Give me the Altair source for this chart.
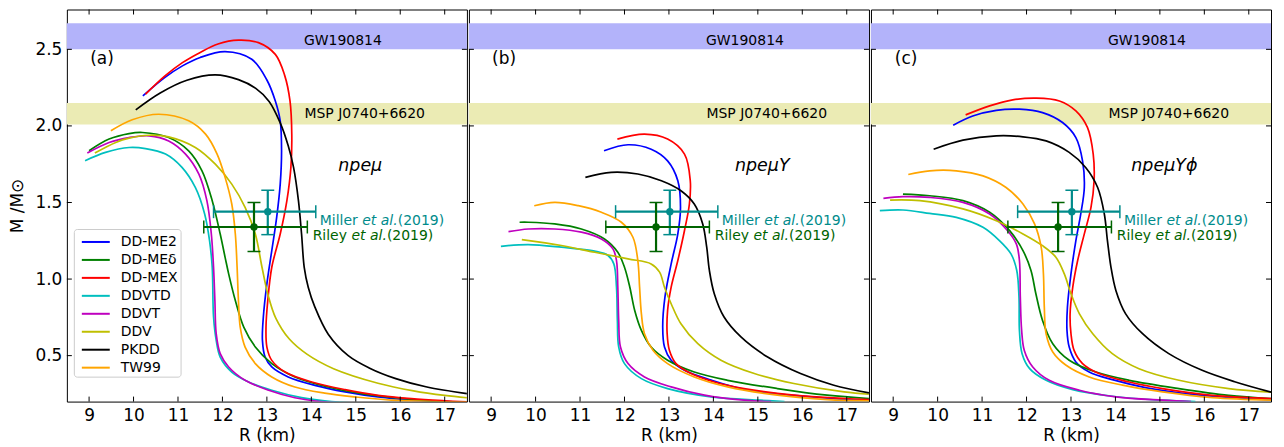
import altair as alt
import pandas as pd

# ---------------- data ----------------
MODELS = ["DD-ME2", "DD-MEδ", "DD-MEX", "DDVTD", "DDVT", "DDV", "PKDD", "TW99"]
COLORS = ["#0000ff", "#008000", "#ff0000", "#00bfbf", "#bf00bf", "#bfbf00", "#000000", "#ffa500"]

X_TICKS = [9, 10, 11, 12, 13, 14, 15, 16, 17]
Y_TICKS = [0.5, 1.0, 1.5, 2.0, 2.5]

GW_BAND = [2.50, 2.67]
MSP_BAND = [2.01, 2.15]

OBS_NAMES = ["Miller", "Riley"]
OBS_R = [13.02, 12.71]
OBS_R_LO = [11.80, 11.58]
OBS_R_HI = [14.10, 13.91]
OBS_M = [1.44, 1.34]
OBS_M_LO = [1.29, 1.18]
OBS_M_HI = [1.58, 1.50]

PANEL_LABELS = ["(a)", "(b)", "(c)"]
COMPOSITIONS = ["npeμ", "npeμY", "npeμYϕ"]

# panel (a): npeμ
CURVES_A = {
    "DD-ME2": [(10.21, 2.196), (10.7, 2.315), (11.1, 2.392), (11.5, 2.447), (12.06, 2.485), (12.66, 2.435),
               (13.0, 2.30), (13.19, 2.163), (13.30, 2.033), (13.33, 1.837), (13.30, 1.62), (13.22, 1.403),
               (13.11, 1.186), (13.0, 0.969), (12.92, 0.752), (12.90, 0.6), (12.96, 0.491), (13.11, 0.426),
               (13.48, 0.361), (14.08, 0.306), (14.76, 0.263), (15.5, 0.23), (16.25, 0.21), (17.0, 0.2),
               (17.5, 0.195)],
    "DD-MEδ": [(9.0, 1.838), (9.45, 1.914), (9.9, 1.95), (10.2, 1.957), (10.79, 1.924), (11.24, 1.837),
               (11.54, 1.707), (11.77, 1.512), (11.95, 1.294), (12.06, 1.142), (12.14, 1.034), (12.29, 0.860),
               (12.48, 0.686), (12.74, 0.556), (13.11, 0.448), (13.63, 0.361), (14.38, 0.295), (15.13, 0.252),
               (15.9, 0.225), (16.6, 0.205), (17.5, 0.197)],
    "DD-MEX": [(10.27, 2.207), (10.7, 2.325), (11.1, 2.413), (11.5, 2.48), (11.9, 2.535), (12.36, 2.56),
               (12.81, 2.544), (13.19, 2.467), (13.40, 2.33), (13.52, 2.163), (13.56, 1.946), (13.54, 1.729),
               (13.45, 1.512), (13.30, 1.294), (13.11, 1.077), (13.02, 0.86), (12.98, 0.686), (13.0, 0.556),
               (13.11, 0.469), (13.41, 0.393), (14.01, 0.328), (14.76, 0.278), (15.5, 0.241), (16.25, 0.219),
               (17.0, 0.205), (17.5, 0.198)],
    "DDVTD": [(8.91, 1.773), (9.37, 1.827), (9.9, 1.859), (10.27, 1.852), (10.72, 1.816), (11.09, 1.729),
              (11.39, 1.598), (11.60, 1.425), (11.71, 1.251), (11.77, 1.077), (11.80, 0.752), (11.86, 0.6),
              (11.95, 0.491), (12.21, 0.393), (12.59, 0.328), (13.11, 0.274), (13.78, 0.226), (14.45, 0.2),
              (15.0, 0.19)],
    "DDVT": [(8.96, 1.823), (9.45, 1.892), (9.9, 1.924), (10.35, 1.935), (10.79, 1.902), (11.17, 1.816),
             (11.47, 1.685), (11.65, 1.512), (11.75, 1.294), (11.80, 1.077), (11.83, 0.860), (11.86, 0.643),
             (11.95, 0.513), (12.14, 0.426), (12.51, 0.339), (13.04, 0.274), (13.63, 0.225), (14.2, 0.2),
             (14.8, 0.19)],
    "DDV": [(9.13, 1.823), (9.60, 1.892), (9.9, 1.92), (10.35, 1.939), (10.79, 1.928), (11.39, 1.859),
            (11.84, 1.75), (12.21, 1.62), (12.51, 1.468), (12.74, 1.294), (12.89, 1.077), (13.02, 0.903),
            (13.2, 0.745), (13.5, 0.61), (13.9, 0.51), (14.5, 0.415), (15.5, 0.32), (16.3, 0.27),
            (17.0, 0.24), (17.5, 0.225)],
    "PKDD": [(10.05, 2.105), (10.6, 2.215), (11.2, 2.298), (11.84, 2.333), (12.36, 2.302), (12.75, 2.245),
             (13.05, 2.16), (13.3, 2.02), (13.48, 1.87), (13.60, 1.729), (13.71, 1.512), (13.78, 1.294),
             (13.84, 1.077), (13.93, 0.947), (14.08, 0.817), (14.38, 0.64), (14.83, 0.50), (15.3, 0.42),
             (15.9, 0.35), (16.6, 0.295), (17.5, 0.252)],
    "TW99": [(9.49, 1.968), (9.97, 2.04), (10.57, 2.076), (11.24, 2.033), (11.62, 1.946), (11.88, 1.816),
             (12.06, 1.664), (12.21, 1.490), (12.29, 1.294), (12.33, 1.077), (12.36, 0.860), (12.40, 0.686),
             (12.51, 0.556), (12.74, 0.448), (13.11, 0.361), (13.63, 0.295), (14.3, 0.255), (15.0, 0.23),
             (15.8, 0.21), (16.8, 0.2), (17.5, 0.197)],
}

# panel (b): npeμY
CURVES_B = {
    "DD-ME2": [(11.54, 1.838), (12.08, 1.877), (12.60, 1.848), (12.97, 1.772), (13.20, 1.642), (13.26, 1.468),
               (13.20, 1.295), (13.05, 1.099), (12.91, 0.882), (12.86, 0.687), (12.90, 0.556), (13.05, 0.47),
               (13.35, 0.404), (13.95, 0.34), (14.69, 0.28), (15.81, 0.24), (16.94, 0.215), (17.5, 0.21)],
    "DD-MEδ": [(9.64, 1.371), (9.836, 1.371), (10.43, 1.36), (11.03, 1.327), (11.55, 1.262), (11.85, 1.175),
               (12.0, 1.077), (12.12, 0.947), (12.23, 0.795), (12.38, 0.665), (12.60, 0.556), (12.97, 0.47),
               (13.57, 0.393), (14.32, 0.339), (15.44, 0.285), (16.56, 0.242), (17.5, 0.22)],
    "DD-MEX": [(11.84, 1.914), (12.45, 1.946), (12.97, 1.914), (13.35, 1.816), (13.48, 1.642), (13.46, 1.49),
               (13.35, 1.317), (13.20, 1.121), (13.05, 0.947), (12.97, 0.795), (12.96, 0.643), (13.01, 0.535),
               (13.16, 0.448), (13.50, 0.383), (14.02, 0.328), (14.69, 0.285), (15.81, 0.242), (16.94, 0.22),
               (17.5, 0.213)],
    "DDVTD": [(9.22, 1.214), (9.836, 1.225), (10.58, 1.208), (11.33, 1.182), (11.63, 1.154), (11.76, 1.099),
              (11.82, 0.947), (11.84, 0.73), (11.87, 0.556), (12.0, 0.448), (12.38, 0.35), (12.97, 0.285),
              (13.95, 0.231), (15.06, 0.209), (15.6, 0.2)],
    "DDVT": [(9.39, 1.31), (9.836, 1.327), (10.43, 1.327), (11.03, 1.306), (11.48, 1.262), (11.74, 1.197),
             (11.82, 1.121), (11.85, 0.947), (11.87, 0.73), (11.91, 0.556), (12.08, 0.448), (12.45, 0.361),
             (13.05, 0.296), (13.80, 0.242), (14.69, 0.209), (15.3, 0.2)],
    "DDV": [(9.69, 1.258), (10.58, 1.219), (11.33, 1.175), (12.08, 1.132), (12.60, 1.099), (12.79, 1.045),
            (12.90, 0.947), (13.05, 0.839), (13.27, 0.708), (13.65, 0.578), (14.17, 0.47), (14.92, 0.383),
            (15.81, 0.318), (16.94, 0.263), (17.5, 0.248)],
    "PKDD": [(11.12, 1.664), (11.70, 1.697), (12.30, 1.686), (12.83, 1.642), (13.27, 1.577), (13.57, 1.49),
             (13.76, 1.36), (13.85, 1.208), (13.91, 1.056), (14.02, 0.904), (14.24, 0.752), (14.62, 0.622),
             (15.22, 0.491), (15.96, 0.383), (16.71, 0.307), (17.5, 0.257)],
    "TW99": [(9.97, 1.479), (10.43, 1.501), (10.96, 1.479), (11.48, 1.436), (11.93, 1.371), (12.19, 1.273),
             (12.30, 1.121), (12.34, 0.947), (12.38, 0.774), (12.45, 0.643), (12.64, 0.535), (12.97, 0.448),
             (13.57, 0.361), (14.32, 0.296), (15.44, 0.242), (16.56, 0.213), (17.5, 0.205)],
}

# panel (c): npeμYϕ
CURVES_C = {
    "DD-ME2": [(10.35, 2.005), (10.79, 2.065), (11.32, 2.102), (11.84, 2.109), (12.36, 2.087), (12.81, 2.022),
               (13.11, 1.924), (13.26, 1.772), (13.30, 1.598), (13.22, 1.425), (13.11, 1.251), (13.0, 1.034),
               (12.92, 0.817), (12.91, 0.665), (12.96, 0.556), (13.11, 0.459), (13.41, 0.393), (13.93, 0.343),
               (14.7, 0.29), (15.8, 0.245), (16.9, 0.22), (17.5, 0.212)],
    "DD-MEδ": [(9.22, 1.555), (9.82, 1.544), (10.57, 1.512), (11.17, 1.436), (11.62, 1.316), (11.92, 1.186),
               (12.10, 1.056), (12.21, 0.904), (12.36, 0.73), (12.59, 0.578), (12.96, 0.47), (13.56, 0.393),
               (14.31, 0.339), (15.43, 0.285), (16.55, 0.241), (17.5, 0.22)],
    "DD-MEX": [(10.63, 2.072), (11.17, 2.131), (11.69, 2.17), (12.22, 2.181), (12.74, 2.163), (13.11, 2.098),
               (13.37, 1.99), (13.50, 1.816), (13.52, 1.642), (13.45, 1.468), (13.30, 1.295), (13.15, 1.121),
               (13.04, 0.947), (12.98, 0.773), (13.0, 0.643), (13.07, 0.534), (13.26, 0.448), (13.63, 0.383),
               (14.31, 0.328), (15.06, 0.285), (16.18, 0.241), (17.5, 0.22)],
    "DDVTD": [(8.70, 1.447), (9.22, 1.451), (9.82, 1.429), (10.42, 1.403), (11.02, 1.338), (11.39, 1.251),
              (11.65, 1.164), (11.78, 1.056), (11.83, 0.882), (11.84, 0.665), (11.90, 0.513), (12.07, 0.415),
              (12.44, 0.339), (13.04, 0.278), (13.93, 0.235), (15.06, 0.209), (15.8, 0.2)],
    "DDVT": [(8.78, 1.527), (9.22, 1.538), (9.82, 1.533), (10.57, 1.501), (11.17, 1.425), (11.54, 1.327),
             (11.77, 1.23), (11.84, 1.121), (11.86, 0.882), (11.89, 0.665), (11.95, 0.534), (12.14, 0.426),
             (12.51, 0.339), (13.19, 0.274), (14.01, 0.231), (15.06, 0.209), (15.7, 0.2)],
    "DDV": [(8.93, 1.516), (9.60, 1.512), (10.57, 1.458), (11.32, 1.381), (11.92, 1.295), (12.36, 1.218),
            (12.66, 1.143), (12.85, 1.034), (13.0, 0.904), (13.19, 0.773), (13.49, 0.643), (13.93, 0.513),
            (14.53, 0.415), (15.43, 0.339), (16.55, 0.285), (17.5, 0.262)],
    "PKDD": [(9.91, 1.848), (10.57, 1.907), (11.32, 1.935), (11.92, 1.929), (12.44, 1.902), (12.96, 1.827),
             (13.33, 1.729), (13.60, 1.598), (13.75, 1.425), (13.82, 1.251), (13.90, 1.077), (14.01, 0.926),
             (14.23, 0.773), (14.61, 0.643), (15.20, 0.513), (15.95, 0.404), (16.70, 0.328), (17.5, 0.262)],
    "TW99": [(9.34, 1.683), (9.82, 1.707), (10.42, 1.707), (11.02, 1.674), (11.54, 1.598), (11.92, 1.490),
             (12.18, 1.36), (12.33, 1.208), (12.38, 1.034), (12.40, 0.817), (12.44, 0.643), (12.59, 0.524),
             (12.89, 0.437), (13.41, 0.361), (14.16, 0.307), (15.06, 0.263), (16.18, 0.226), (17.5, 0.21)],
}

# ---------------- chart ----------------
W, H = 401, 393
FONT = "DejaVu Sans"
OBS_COLORS = ["#008b8b", "#006400"]
XS = alt.Scale(domain=[8.5, 17.5], nice=False, zero=False)
YS = alt.Scale(domain=[0.2, 2.76], nice=False, zero=False)

LEGEND = alt.Legend(title=None, orient="none", legendX=7, legendY=220,
                    symbolType="M-1.4,0H1.4", symbolSize=400, symbolStrokeWidth=2,
                    symbolOffset=9, labelOffset=14, padding=2, rowPadding=0,
                    labelFontSize=14, labelFont=FONT, labelColor="black", labelLimit=0,
                    fillColor="rgba(255,255,255,0.85)", strokeColor="#cccccc", cornerRadius=3)

X_AXIS = alt.Axis(values=X_TICKS, format="d", title="R (km)", labelPadding=6, titlePadding=4,
                  ticks=False, domain=False, grid=False)
Y_AXIS = alt.Axis(values=Y_TICKS, format=".1f", title="M /M⊙", labelPadding=5, titlePadding=8,
                  ticks=False, domain=False, grid=False)


def curves_frame(curves):
    rows = []
    for model, pts in curves.items():
        for i, (r, m) in enumerate(pts):
            rows.append({"model": model, "R": r, "M": m, "i": i})
    return pd.DataFrame(rows)


def panel(curves, tag, comp, first):
    yaxis = Y_AXIS if first else None

    def X(f):
        return alt.X(f"{f}:Q", scale=XS, axis=X_AXIS)

    def Y(f):
        return alt.Y(f"{f}:Q", scale=YS, axis=yaxis)

    def text_layer(txt, x, y, **style):
        d = pd.DataFrame({"R": [x], "M": [y]})
        return alt.Chart(d).mark_text(text=txt, font=FONT, baseline="middle", **style).encode(
            x=X("R"), y=Y("M"))

    layers = []
    for band, col, txt, tx, ty in [(GW_BAND, "#b3b3fa", "GW190814", 14.71, 2.555),
                                    (MSP_BAND, "#ebebb4", "MSP J0740+6620", 15.2, 2.08)]:
        bdf = pd.DataFrame({"M": [band[0]], "M2": [band[1]]})
        layers.append(alt.Chart(bdf).mark_rect(color=col, opacity=1).encode(
            y=Y("M"), y2="M2:Q", x=alt.value(0), x2=alt.value(W)))
        layers.append(text_layer(txt, tx, ty, fontSize=14, color="black", align="center"))

    df = curves_frame(curves)
    layers.append(alt.Chart(df).mark_line(interpolate="catmull-rom", strokeWidth=1.7, clip=True).encode(
        x=X("R"), y=Y("M"),
        color=alt.Color("model:N", scale=alt.Scale(domain=MODELS, range=COLORS), legend=LEGEND),
        order=alt.Order("i:Q"),
    ))

    # observational error bars
    for k, name in enumerate(OBS_NAMES):
        c = OBS_COLORS[k]
        odf = pd.DataFrame({"R": [OBS_R[k]], "Rlo": [OBS_R_LO[k]], "Rhi": [OBS_R_HI[k]],
                            "M": [OBS_M[k]], "Mlo": [OBS_M_LO[k]], "Mhi": [OBS_M_HI[k]]})
        layers.append(alt.Chart(odf).mark_rule(color=c, strokeWidth=2.2).encode(
            x=X("Rlo"), x2="Rhi:Q", y=Y("M")))
        layers.append(alt.Chart(odf).mark_rule(color=c, strokeWidth=2.2).encode(
            x=X("R"), y=Y("Mlo"), y2="Mhi:Q"))
        for fx in ["Rlo", "Rhi"]:
            layers.append(alt.Chart(odf).mark_point(shape="M0,-1V1", size=169, color=c, strokeWidth=1.5,
                                                    opacity=1).encode(x=X(fx), y=Y("M")))
        for fy in ["Mlo", "Mhi"]:
            layers.append(alt.Chart(odf).mark_point(shape="M-1,0H1", size=169, color=c, strokeWidth=1.5,
                                                    opacity=1).encode(x=X("R"), y=Y(fy)))
        layers.append(alt.Chart(odf).mark_circle(color=c, size=55, opacity=1).encode(x=X("R"), y=Y("M")))

    # observation labels with italic "et al."
    for name, tx, ty, c, w0 in [("Miller", 14.19, 1.381, OBS_COLORS[0], 42.6),
                                 ("Riley", 14.03, 1.280, OBS_COLORS[1], 38.9)]:
        for txt, dx, style in [(name, 0, "normal"), ("et al.", w0, "italic"), ("(2019)", w0 + 35.5, "normal")]:
            layers.append(text_layer(txt, tx, ty, fontSize=14, color=c, align="left", dx=dx, fontStyle=style))

    layers.append(text_layer(tag, 9.29, 2.44, fontSize=17, color="black", align="center"))
    layers.append(text_layer(comp, 15.1, 1.74, fontSize=17.5, color="black", align="center",
                             fontStyle="italic"))

    # inward ticks on all four sides
    xt = pd.DataFrame({"R": X_TICKS})
    yt = pd.DataFrame({"M": Y_TICKS})
    layers.append(alt.Chart(xt).mark_rule(color="black", strokeWidth=1).encode(
        x=X("R"), y=alt.value(H), y2=alt.value(H - 5)))
    layers.append(alt.Chart(xt).mark_rule(color="black", strokeWidth=1).encode(
        x=X("R"), y=alt.value(0), y2=alt.value(5)))
    layers.append(alt.Chart(yt).mark_rule(color="black", strokeWidth=1).encode(
        y=Y("M"), x=alt.value(0), x2=alt.value(5)))
    layers.append(alt.Chart(yt).mark_rule(color="black", strokeWidth=1).encode(
        y=Y("M"), x=alt.value(W - 5), x2=alt.value(W)))

    return alt.layer(*layers).properties(width=W, height=H)


panels = [panel(CURVES_A, PANEL_LABELS[0], COMPOSITIONS[0], True),
          panel(CURVES_B, PANEL_LABELS[1], COMPOSITIONS[1], False),
          panel(CURVES_C, PANEL_LABELS[2], COMPOSITIONS[2], False)]

chart = alt.hconcat(*panels, spacing=0).properties(
    padding={"left": 0, "top": 0, "right": 4, "bottom": 0}
).configure(font=FONT).configure_view(stroke="black", strokeWidth=1).configure_axis(
    labelFont=FONT, titleFont=FONT, labelFontSize=17, titleFontSize=17, labelColor="black",
    titleColor="black", titleFontWeight="normal"
)

chart.save("out.html", embed_options={"renderer": "svg", "actions": False})
